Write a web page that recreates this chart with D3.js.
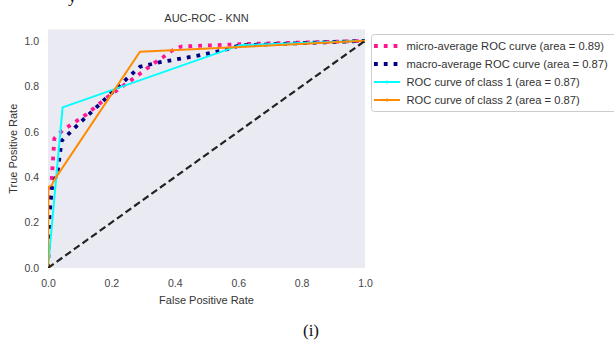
<!DOCTYPE html>
<html>
<head>
<meta charset="utf-8">
<script src="https://cdn.jsdelivr.net/npm/d3@7"></script>
<style>
  html, body { margin: 0; padding: 0; background: #fff; }
  svg { display: block; }
  text { font-family: "Liberation Sans", Arial, sans-serif; }
</style>
</head>
<body>
<svg id="chart" width="614" height="340"></svg>
<script>
// ROC curve vertices (false positive rate, true positive rate)
const microFpr = [0, 0.003, 0.02, 0.045, 0.12, 0.19, 0.235, 0.28, 0.335, 0.365, 0.39, 0.42, 0.6, 1];
const microTpr = [0, 0.2, 0.57, 0.605, 0.675, 0.755, 0.8, 0.845, 0.902, 0.93, 0.956, 0.975, 0.985, 1];
const macroFpr = [0, 0.005, 0.013, 0.03, 0.043, 0.09, 0.2, 0.267, 0.29, 0.35, 0.48, 0.55, 0.606, 1];
const macroTpr = [0, 0.24, 0.36, 0.42, 0.56, 0.625, 0.77, 0.857, 0.886, 0.905, 0.937, 0.958, 0.98, 1];
const class1Fpr = [0, 0.046, 0.606, 1];
const class1Tpr = [0, 0.707, 0.981, 1];
const class2Fpr = [0, 0.001, 0.012, 0.019, 0.29, 1];
const class2Tpr = [0, 0.357, 0.364, 0.386, 0.952, 1];
const chanceFpr = [0, 1];
const chanceTpr = [0, 1];

const seriesNames = [
  "micro-average ROC curve (area = 0.89)",
  "macro-average ROC curve (area = 0.87)",
  "ROC curve of class 1 (area = 0.87)",
  "ROC curve of class 2 (area = 0.87)"
];
const xTicks = [0, 0.2, 0.4, 0.6, 0.8, 1.0];
const yTicks = [0, 0.2, 0.4, 0.6, 0.8, 1.0];

const svg = d3.select("#chart");
const plotLeft = 48, plotRight = 365, plotTop = 29.5, plotBottom = 268;

const x = d3.scaleLinear().domain([0, 1]).range([plotLeft, plotRight]);
const y = d3.scaleLinear().domain([0, 1.05]).range([plotBottom, plotTop]);

// plot background
svg.append("rect")
  .attr("x", plotLeft).attr("y", plotTop)
  .attr("width", plotRight - plotLeft).attr("height", plotBottom - plotTop)
  .attr("fill", "#eaeaf2");

svg.append("clipPath").attr("id", "plotclip")
  .append("rect").attr("x", plotLeft).attr("y", plotTop)
  .attr("width", plotRight - plotLeft).attr("height", plotBottom - plotTop);

const zip = (a, b) => a.map((v, i) => [v, b[i]]);
const line = d3.line().x(d => x(d[0])).y(d => y(d[1]));

const series = [
  { pts: zip(microFpr, microTpr), color: "deeppink", width: 3.8, dash: "3.8,6" },
  { pts: zip(macroFpr, macroTpr), color: "navy", width: 3.8, dash: "3.8,6" },
  { pts: zip(class1Fpr, class1Tpr), color: "aqua", width: 2, dash: null, marker: true },
  { pts: zip(class2Fpr, class2Tpr), color: "darkorange", width: 2, dash: null, marker: true }
];

const plot = svg.append("g").attr("clip-path", "url(#plotclip)");

series.forEach(s => {
  plot.append("path")
    .datum(s.pts)
    .attr("d", line)
    .attr("fill", "none")
    .attr("stroke", s.color)
    .attr("stroke-width", s.width)
    .attr("stroke-dasharray", s.dash)
    .attr("stroke-linejoin", "miter");
});

// chance diagonal
plot.append("path")
  .datum(zip(chanceFpr, chanceTpr))
  .attr("d", line)
  .attr("fill", "none")
  .attr("stroke", "#222")
  .attr("stroke-width", 2.2)
  .attr("stroke-dasharray", "7,3.6");

// axes (labels only, no tick marks or spines)
const xAxis = svg.append("g")
  .attr("transform", `translate(0,${plotBottom})`)
  .call(d3.axisBottom(x).tickValues(xTicks).tickFormat(d3.format(".1f")).tickSize(0).tickPadding(12));
const yAxis = svg.append("g")
  .attr("transform", `translate(${plotLeft},0)`)
  .call(d3.axisLeft(y).tickValues(yTicks).tickFormat(d3.format(".1f")).tickSize(0).tickPadding(9));
[xAxis, yAxis].forEach(g => {
  g.select(".domain").remove();
  g.selectAll("text")
    .attr("fill", "#444")
    .style("font-size", "10.5px")
    .style("font-family", "'Liberation Sans', Arial, sans-serif");
});

// titles
svg.append("text")
  .attr("x", (plotLeft + plotRight) / 2).attr("y", 22)
  .attr("text-anchor", "middle")
  .attr("fill", "#333").style("font-size", "11px")
  .text("AUC-ROC - KNN");

svg.append("text")
  .attr("x", (plotLeft + plotRight) / 2).attr("y", 304)
  .attr("text-anchor", "middle")
  .attr("fill", "#333").style("font-size", "11px")
  .text("False Positive Rate");

svg.append("text")
  .attr("transform", `translate(17,${(plotTop + plotBottom) / 2}) rotate(-90)`)
  .attr("text-anchor", "middle")
  .attr("fill", "#333").style("font-size", "11px")
  .text("True Positive Rate");

// sub-figure caption
svg.append("text")
  .attr("x", 311).attr("y", 336)
  .attr("text-anchor", "middle")
  .attr("fill", "#111")
  .style("font-family", "'Liberation Serif', 'Times New Roman', serif")
  .style("font-size", "17px")
  .text("(i)");

// tail of the preceding caption line
svg.append("text")
  .attr("x", 68).attr("y", 1.5)
  .attr("fill", "#111")
  .style("font-family", "'Liberation Serif', 'Times New Roman', serif")
  .style("font-size", "17px")
  .text("y");

// legend
const lg = svg.append("g");
lg.append("rect")
  .attr("x", 371.5).attr("y", 34.5)
  .attr("width", 260).attr("height", 77)
  .attr("rx", 3)
  .attr("fill", "#fff")
  .attr("stroke", "#ccc")
  .attr("stroke-width", 1);

series.forEach((s, i) => {
  const cy = 46 + i * 18;
  lg.append("line")
    .attr("x1", 374).attr("x2", 400)
    .attr("y1", cy).attr("y2", cy)
    .attr("stroke", s.color)
    .attr("stroke-width", s.width)
    .attr("stroke-dasharray", s.dash);
  if (s.marker) {
    lg.append("circle").attr("cx", 387).attr("cy", cy).attr("r", 1.6).attr("fill", s.color);
  }
  lg.append("text")
    .attr("x", 406.5).attr("y", cy + 4)
    .attr("fill", "#333")
    .style("font-size", "11.2px")
    .text(seriesNames[i]);
});
</script>
</body>
</html>
